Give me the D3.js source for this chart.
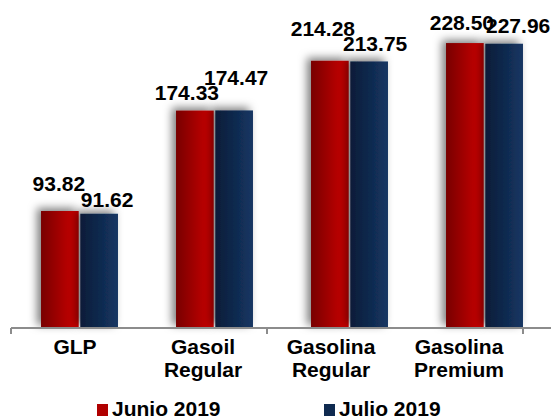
<!DOCTYPE html>
<meta charset="utf-8">
<script src="https://d3js.org/d3.v7.min.js"></script>
<style>
  body { margin: 0; background: #fff; }
  text { font-family: "Liberation Sans", Arial, sans-serif; font-weight: bold; fill: #000; }
</style>
<div id="chart"></div>
<script>
// data
var categories = ["GLP", "Gasoil Regular", "Gasolina Regular", "Gasolina Premium"];
var categoryLines = [["GLP"], ["Gasoil", "Regular"], ["Gasolina", "Regular"], ["Gasolina", "Premium"]];
var seriesNames = ["Junio 2019", "Julio 2019"];
var junio = [93.82, 174.33, 214.28, 228.50];
var julio = [91.62, 174.47, 213.75, 227.96];

// hand-placed label nudges (dx from bar centre, px above bar top), as in the original
var labelNudge = [
  [[-1, 20], [8, 7]],
  [[-8, 11], [2, 25]],
  [[-7, 25], [6, 10]],
  [[-3, 13], [14, 11]]
];

var W = 551, H = 417, baseY = 328;

var svg = d3.select("#chart").append("svg")
  .attr("width", W).attr("height", H);

var defs = svg.append("defs");
function grad(id, c0, c1) {
  var g = defs.append("linearGradient").attr("id", id)
    .attr("x1", 0).attr("x2", 1).attr("y1", 0).attr("y2", 0);
  g.append("stop").attr("offset", "0%").attr("stop-color", c0);
  g.append("stop").attr("offset", "100%").attr("stop-color", c1);
}
grad("gRed", "#780000", "#cf0000");
grad("gBlue", "#0a1c38", "#153663");

var f = defs.append("filter").attr("id", "shadow")
  .attr("x", "-50%").attr("y", "-20%").attr("width", "170%").attr("height", "140%");
f.append("feDropShadow").attr("dx", -4).attr("dy", -3).attr("stdDeviation", 4)
  .attr("flood-color", "#000").attr("flood-opacity", 0.5);

// scales
var y = d3.scaleLinear().domain([0, 250]).range([baseY, baseY - 250 * 1.247]);

var xBars = d3.scaleBand().domain(categories).range([12, 552])
  .paddingInner(0.43).paddingOuter(0.215);
var xSub = d3.scaleBand().domain(seriesNames).range([0, xBars.bandwidth()])
  .paddingInner(0.04);

var xLabels = d3.scaleBand().domain(categories).range([11, 523]);

var fills = ["url(#gRed)", "url(#gBlue)"];
var series = [junio, julio];

// bars
var groups = svg.selectAll("g.cat").data(categories).enter().append("g")
  .attr("class", "cat")
  .attr("transform", function(d) { return "translate(" + xBars(d) + ",0)"; });

groups.selectAll("rect")
  .data(function(d, i) { return seriesNames.map(function(s, j) { return {s: s, j: j, v: series[j][i]}; }); })
  .enter().append("rect")
    .attr("x", function(d) { return xSub(d.s); })
    .attr("y", function(d) { return y(d.v); })
    .attr("width", xSub.bandwidth())
    .attr("height", function(d) { return baseY - y(d.v); })
    .attr("fill", function(d) { return fills[d.j]; })
    .attr("filter", "url(#shadow)");

// value labels
groups.each(function(c, i) {
  var g = d3.select(this);
  seriesNames.forEach(function(s, j) {
    var v = series[j][i], n = labelNudge[i][j];
    g.append("text")
      .attr("x", xSub(s) + xSub.bandwidth() / 2 + n[0])
      .attr("y", y(v) - n[1])
      .attr("text-anchor", "middle")
      .style("font-size", "21px")
      .text(v.toFixed(2));
  });
});

// axis
var axis = svg.append("g");
axis.append("line").attr("x1", 11).attr("x2", W).attr("y1", baseY).attr("y2", baseY)
  .attr("stroke", "#8c8c8c").attr("stroke-width", 2);
[xLabels(categories[0]), xLabels(categories[2]), xLabels.range()[1]].forEach(function(tx) {
  axis.append("line").attr("x1", tx).attr("x2", tx)
    .attr("y1", baseY).attr("y2", baseY + 6)
    .attr("stroke", "#8c8c8c").attr("stroke-width", 2);
});

categories.forEach(function(c, i) {
  var cx = xLabels(c) + xLabels.bandwidth() / 2;
  var t = svg.append("text")
    .attr("x", cx)
    .attr("y", 354)
    .attr("text-anchor", "middle")
    .style("font-size", "21px");
  categoryLines[i].forEach(function(line, k) {
    t.append("tspan").attr("x", cx)
      .attr("dy", k === 0 ? 0 : 23).text(line);
  });
});

// legend
var legendX = [97, 324];
var legendFill = ["#b00000", "#0f2a50"];
seriesNames.forEach(function(s, j) {
  svg.append("rect").attr("x", legendX[j]).attr("y", 404).attr("width", 11).attr("height", 12)
    .attr("fill", legendFill[j]);
  svg.append("text").attr("x", legendX[j] + 15).attr("y", 416)
    .style("font-size", "21px").text(s);
});
</script>
